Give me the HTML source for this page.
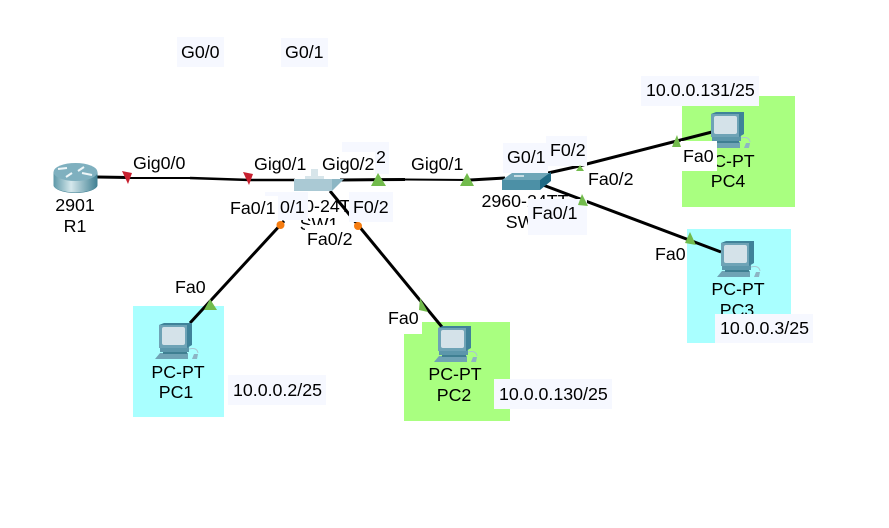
<!DOCTYPE html>
<html>
<head>
<meta charset="utf-8">
<style>
html,body{margin:0;padding:0;background:#fff}
svg{display:block}
text{font-family:"Liberation Sans",sans-serif;font-size:17.8px;fill:#000}
.m{text-anchor:middle}
</style>
</head>
<body>
<svg xmlns="http://www.w3.org/2000/svg" width="889" height="528" viewBox="0 0 889 528">
<defs>
<linearGradient id="rg" x1="0" x2="1" y1="0" y2="0">
<stop offset="0" stop-color="#5d98a8"/><stop offset=".4" stop-color="#d5e8ec"/><stop offset="1" stop-color="#3f7f92"/>
</linearGradient>
<g id="pc">
<polygon points="-4,36 1,30 29,30 29,36" fill="#6fa3b5"/>
<rect x="1" y="24" width="29" height="5" fill="#5c97ab"/>
<rect x="4" y="29" width="24" height="2" fill="#3f7f92"/>
<polygon points="0,2 5,0 33,0 33,22 28,25 0,25" fill="#3f8299"/>
<rect x="0" y="2" width="28" height="23" fill="#6ea3b6"/>
<rect x="3" y="4" width="23" height="18" rx="2" fill="#d4e2e9"/>
<polygon points="33,36 35,31 39,31 38,36" fill="#8db4c4"/>
<path d="M30 26 Q38 24 39 30" fill="none" stroke="#a9c6d2" stroke-width="1"/>
</g>
</defs>

<rect width="889" height="528" fill="#fff"/>

<!-- colored panels -->
<rect x="133" y="306" width="91" height="111" fill="#a9ffff"/>
<rect x="404" y="322" width="106" height="99" fill="#a9ff80"/>
<rect x="682" y="96" width="113" height="111" fill="#a9ff80"/>
<rect x="687" y="229" width="104" height="114" fill="#a9ffff"/>

<!-- top labels -->
<rect x="177" y="37" width="47" height="30" fill="#f6f8ff"/>
<text x="181" y="58">G0/0</text>
<rect x="281" y="38" width="47" height="29" fill="#f6f8ff"/>
<text x="285" y="58">G0/1</text>

<!-- behind label -->
<rect x="342" y="142" width="47" height="32" fill="#f6f8ff"/>
<text x="376" y="163">2</text>

<!-- links -->
<polyline points="97,177 128,177.500" fill="none" stroke="#000" stroke-width="3"/>
<polyline points="128,178 190,178" fill="none" stroke="#000" stroke-width="2"/>
<polyline points="190,178 250,180 295,180" fill="none" stroke="#000" stroke-width="2.500"/>
<line x1="340" y1="180" x2="405" y2="179.500" stroke="#000" stroke-width="3"/>
<line x1="405" y1="179.500" x2="470" y2="180" stroke="#000" stroke-width="2"/>
<line x1="470" y1="180" x2="505" y2="178" stroke="#000" stroke-width="3"/>
<line x1="284" y1="221" x2="190" y2="323" stroke="#000" stroke-width="3"/>
<line x1="330" y1="191" x2="442" y2="327" stroke="#000" stroke-width="3"/>
<polyline points="548,173 575,167 712,132" fill="none" stroke="#000" stroke-width="3"/>
<line x1="543" y1="185" x2="721" y2="252" stroke="#000" stroke-width="3"/>

<!-- white label backings -->
<rect x="133" y="152" width="57" height="24" fill="#fff"/>
<rect x="252" y="152" width="55" height="26" fill="#fff"/>
<rect x="320" y="152" width="55" height="26" fill="#fff"/>
<rect x="408" y="152" width="58" height="25" fill="#fff"/>
<rect x="586" y="166" width="50" height="24" fill="#fff"/>
<rect x="653" y="241" width="34" height="29" fill="#fff"/>
<rect x="173" y="276" width="36" height="23" fill="#fff"/>
<rect x="386" y="308" width="36" height="26" fill="#fff"/>

<!-- router -->
<ellipse cx="75.500" cy="185" rx="22" ry="8" fill="#3f7f92"/>
<rect x="53.500" y="172" width="44" height="13" fill="url(#rg)"/>
<ellipse cx="75.500" cy="185" rx="22" ry="7.500" fill="url(#rg)"/>
<ellipse cx="75.500" cy="172" rx="22" ry="9" fill="#7fb0bf"/>
<path d="M58 169 l9 -1 M84 167 l-6 4 M66 177 l6 -4 M92 175 l-10 -2" stroke="#eef6f8" stroke-width="2" fill="none"/>
<text class="m" x="75" y="211">2901</text>
<text class="m" x="75" y="232">R1</text>

<!-- SW1 -->
<text class="m" x="318" y="212">2960-24TT</text>
<text class="m" x="319" y="230">SW1</text>
<rect x="311" y="169" width="7" height="10" fill="#d7e5ea"/>
<rect x="305" y="176" width="19" height="3" fill="#d7e5ea"/>
<rect x="294" y="179" width="38" height="12" fill="#aac9d4"/>
<polygon points="332,191 332,179 344,179" fill="#8cb6c4"/>

<!-- SW2 -->
<polygon points="502,180 512,173 551,173 540,180" fill="#6ea6b8"/>
<rect x="502" y="180" width="38" height="10" fill="#4c90a6"/>
<polygon points="540,180 551,172 551,181 540,190" fill="#1f6a85"/>
<rect x="514" y="175" width="10" height="2" fill="#c7dde4"/>
<text class="m" x="525" y="207">2960-24TT</text>
<text class="m" x="525" y="228">SW2</text>

<!-- label boxes over devices -->
<rect x="265" y="192" width="43" height="28" fill="#f6f8ff"/>
<rect x="228" y="196" width="50" height="26" fill="#fff"/>
<text x="280" y="213">0/1</text>
<rect x="349" y="192" width="44" height="30" fill="#f6f8ff"/>
<text x="353" y="213">F0/2</text>
<rect x="305" y="225" width="48" height="25" fill="#fff"/>
<rect x="503" y="143" width="45" height="30" fill="#f6f8ff"/>
<text x="507" y="163">G0/1</text>
<rect x="546" y="136" width="41" height="30" fill="#f6f8ff"/>
<text x="550" y="156">F0/2</text>
<rect x="528" y="199" width="59" height="36" fill="#f6f8ff"/>
<text x="532" y="219">Fa0/1</text>

<!-- link labels -->
<text x="133" y="169">Gig0/0</text>
<text x="254" y="170">Gig0/1</text>
<text x="322" y="170">Gig0/2</text>
<text x="411" y="170">Gig0/1</text>
<text x="230" y="214">Fa0/1</text>
<text x="307" y="245">Fa0/2</text>
<text x="588" y="185">Fa0/2</text>
<text x="175" y="293">Fa0</text>
<text x="388" y="324">Fa0</text>
<text x="655" y="260">Fa0</text>

<!-- PCs -->
<use href="#pc" x="159" y="323"/>
<use href="#pc" x="438" y="326"/>
<use href="#pc" x="721" y="241"/>
<use href="#pc" x="711" y="112"/>

<text class="m" x="178" y="378">PC-PT</text>
<text class="m" x="176" y="398">PC1</text>
<text class="m" x="455" y="380">PC-PT</text>
<text class="m" x="454" y="401">PC2</text>
<text class="m" x="738" y="295">PC-PT</text>
<text class="m" x="737" y="316">PC3</text>
<text class="m" x="728" y="167">PC-PT</text>
<text class="m" x="728" y="187">PC4</text>

<rect x="681" y="141" width="36" height="30" fill="#fff"/>
<text x="683" y="162">Fa0</text>

<!-- IP labels -->
<rect x="641" y="76" width="118" height="30" fill="#f6f8ff"/>
<text x="646" y="96">10.0.0.131/25</text>
<rect x="715" y="314" width="98" height="29" fill="#f6f8ff"/>
<text x="720" y="334">10.0.0.3/25</text>
<rect x="228" y="375" width="98" height="30" fill="#f6f8ff"/>
<text x="233" y="396">10.0.0.2/25</text>
<rect x="494" y="379" width="118" height="30" fill="#f6f8ff"/>
<text x="499" y="400">10.0.0.130/25</text>

<!-- link-state markers -->
<polygon points="122,171 132,173 128,184" fill="#c8202f"/>
<polygon points="243,172 253,174 249,185" fill="#c8202f"/>
<polygon points="378,173 386,186 371,186" fill="#72bb4c"/>
<polygon points="467,173 474,186 460,186" fill="#72bb4c"/>
<polygon points="210,299 217,310 204,310" fill="#72bb4c"/>
<polygon points="420,298 428,312 419,310" fill="#72bb4c"/>
<polygon points="690,232 696,245 685,243" fill="#72bb4c"/>
<polygon points="677,135 681,147 672,147" fill="#72bb4c"/>
<polygon points="580,165 584,171 576,171" fill="#72bb4c"/>
<polygon points="582,194 588,206 578,205" fill="#72bb4c"/>
<circle cx="280.500" cy="225" r="4" fill="#f57c10"/>
<circle cx="358" cy="226" r="4" fill="#f57c10"/>
</svg>
</body>
</html>
